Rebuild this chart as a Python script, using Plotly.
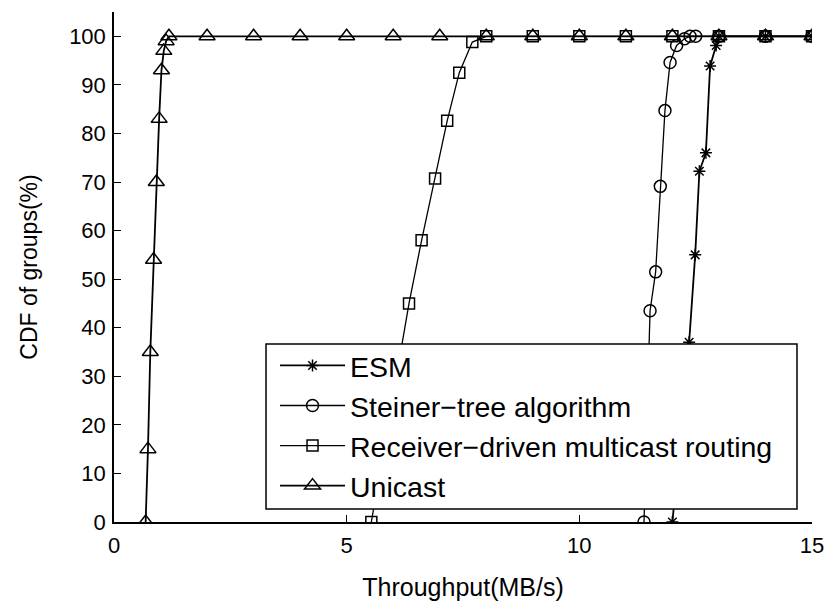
import plotly.graph_objects as go

# ---- data ----
esm_x = [12.0, 12.36, 12.49, 12.58, 12.72, 12.81, 12.94, 13.0, 14, 15]
esm_y = [0, 37, 55, 72.2, 76, 93.9, 98.1, 100, 100, 100]

steiner_x = [11.39, 11.52, 11.64, 11.74, 11.84, 11.95, 12.09, 12.26, 12.38, 12.50, 13, 14, 15]
steiner_y = [0, 43.5, 51.5, 69.1, 84.7, 94.6, 98.1, 99.5, 100, 100, 100, 100, 100]

receiver_x = [5.53, 6.34, 6.61, 6.90, 7.16, 7.42, 7.70, 8, 9, 10, 11, 12, 13, 14, 15]
receiver_y = [0, 45, 58, 70.7, 82.6, 92.5, 98.8, 100, 100, 100, 100, 100, 100, 100, 100]

unicast_x = [0.68, 0.73, 0.78, 0.85, 0.91, 0.97, 1.02, 1.07, 1.12, 1.18,
             2, 3, 4, 5, 6, 7, 8, 9, 10, 11, 12, 13, 14, 15]
unicast_y = [0, 15, 35, 54, 70, 83, 93, 97, 99, 100,
             100, 100, 100, 100, 100, 100, 100, 100, 100, 100, 100, 100, 100, 100]

series_names = ["ESM", "Steiner\u2212tree algorithm",
                "Receiver\u2212driven multicast routing", "Unicast"]
x_ticks = [0, 5, 10, 15]
y_ticks = [0, 10, 20, 30, 40, 50, 60, 70, 80, 90, 100]

FONT = "Liberation Sans, Arial, sans-serif"

fig = go.Figure()
styles = [
    (esm_x, esm_y, "asterisk-open", 10, 1.8),
    (steiner_x, steiner_y, "circle-open", 12, 1.3),
    (receiver_x, receiver_y, "square-open", 11, 1.3),
    (unicast_x, unicast_y, "triangle-up-open", 14, 1.8),
]
for name, (xs, ys, sym, sz, lw) in zip(series_names, styles):
    fig.add_trace(go.Scatter(
        x=xs, y=ys, name=name, mode="lines+markers",
        line=dict(color="black", width=lw),
        marker=dict(symbol=sym, size=sz, color="black",
                    line=dict(color="black", width=1.5)),
    ))

# legend frame (white box that hides the curves underneath, as in the reference)
fig.add_shape(type="rect", xref="paper", yref="paper",
              x0=0.2178, x1=0.9785, y0=0.0255, y1=0.349,
              fillcolor="white", line=dict(color="black", width=1.5),
              layer="above")

# page body has an 8px margin, so the figure is 8px smaller than the window
fig.update_layout(
    width=826, height=594,
    margin=dict(l=106, r=22, t=4, b=80),
    paper_bgcolor="white", plot_bgcolor="white",
    font=dict(family=FONT, color="black", size=20),
    showlegend=True,
    legend=dict(
        x=0.2307, y=0.356, xanchor="left", yanchor="top",
        bgcolor="rgba(0,0,0,0)", borderwidth=0,
        font=dict(family=FONT, size=28.5, color="black"),
        itemwidth=65, tracegroupgap=0,
    ),
    xaxis=dict(
        range=[0, 15], tickvals=x_ticks, ticktext=[str(v) for v in x_ticks],
        ticks="inside", ticklen=7, tickcolor="black", tickwidth=1.2,
        showline=True, linecolor="black", linewidth=1.5,
        showgrid=False, zeroline=False, automargin=False,
        tickfont=dict(size=22), ticklabelstandoff=3,
        title=dict(text="Throughput(MB/s)", font=dict(size=25), standoff=21),
    ),
    yaxis=dict(
        range=[0, 105], tickvals=y_ticks, ticktext=[str(v) for v in y_ticks],
        ticks="inside", ticklen=7, tickcolor="black", tickwidth=1.2,
        showline=True, linecolor="black", linewidth=1.5,
        showgrid=False, zeroline=False, automargin=False,
        tickfont=dict(size=22), ticklabelstandoff=2,
        title=dict(text="CDF of groups(%)", font=dict(size=23), standoff=25),
    ),
)

fig.write_html("out.html")
